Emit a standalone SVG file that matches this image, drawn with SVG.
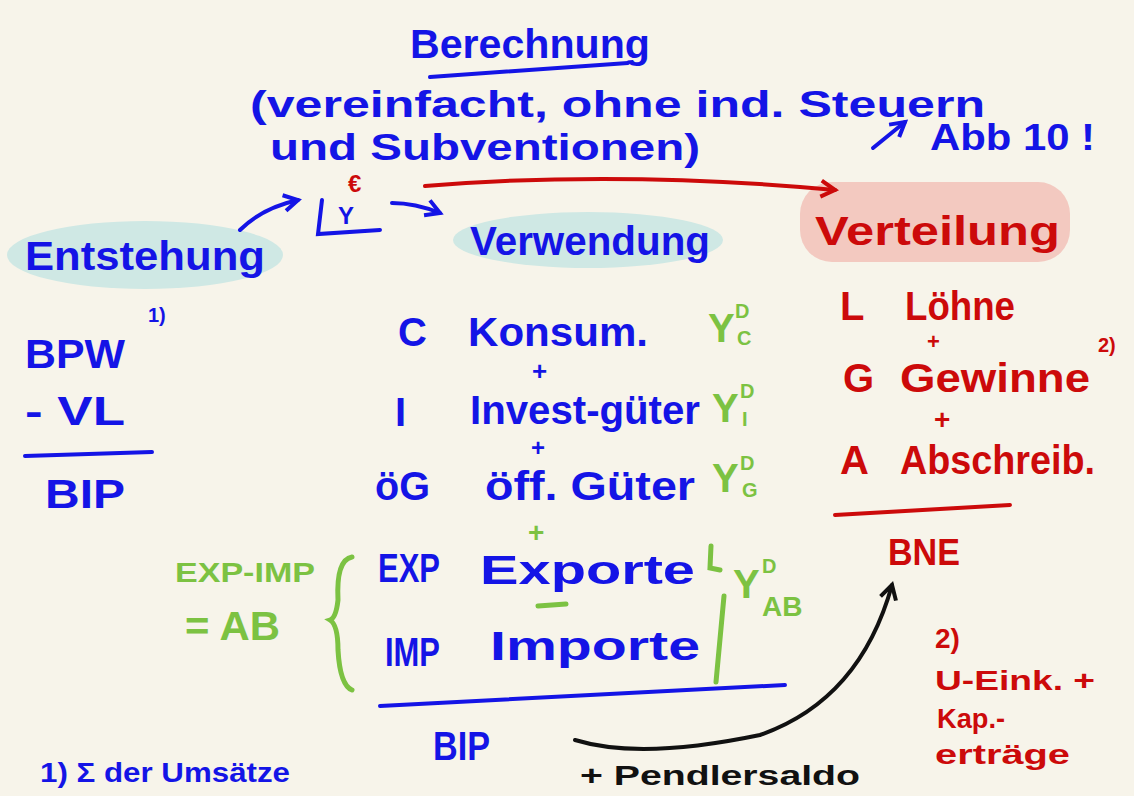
<svg xmlns="http://www.w3.org/2000/svg" width="1134" height="796" viewBox="0 0 1134 796">
<style>
text{font-family:"Liberation Sans","DejaVu Sans",sans-serif;font-weight:bold}
.b{fill:#1414e6}.r{fill:#cc0a0a}.g{fill:#7cc242}.k{fill:#111}
.sb{stroke:#1414e6;stroke-width:4;fill:none;stroke-linecap:round}
.sr{stroke:#cc0a0a;stroke-width:4;fill:none;stroke-linecap:round}
.sg{stroke:#7cc242;stroke-width:5;fill:none;stroke-linecap:round}
.sk{stroke:#111;stroke-width:4;fill:none;stroke-linecap:round}
.big{font-size:40px}.mid{font-size:36px}.sm{font-size:28px}.xs{font-size:20px}
</style>
<defs>
<marker id="ab" viewBox="0 0 10 10" refX="8" refY="5" markerWidth="5" markerHeight="5" orient="auto"><path d="M1,1 L8,5 L1,9" fill="none" stroke="#1414e6" stroke-width="2"/></marker>
<marker id="ar" viewBox="0 0 10 10" refX="8" refY="5" markerWidth="5" markerHeight="5" orient="auto"><path d="M1,1 L8,5 L1,9" fill="none" stroke="#cc0a0a" stroke-width="2"/></marker>
<marker id="ak" viewBox="0 0 10 10" refX="8" refY="5" markerWidth="5" markerHeight="5" orient="auto"><path d="M1,1 L8,5 L1,9" fill="none" stroke="#111" stroke-width="2"/></marker>
</defs>
<rect width="1134" height="796" fill="#f7f4ea"/>

<g id="title">
<text class="b big" x="410" y="58" textLength="240" lengthAdjust="spacingAndGlyphs">Berechnung</text>
<path class="sb" d="M430,77 L628,63"/>
<text class="b mid" x="250" y="117" textLength="735" lengthAdjust="spacingAndGlyphs">(vereinfacht, ohne ind. Steuern</text>
<text class="b mid" x="270" y="160" textLength="430" lengthAdjust="spacingAndGlyphs">und Subventionen)</text>
<path class="sb" d="M873,148 L905,122" marker-end="url(#ab)"/>
<text class="b mid" x="930" y="150" textLength="165" lengthAdjust="spacingAndGlyphs">Abb 10 !</text>
</g>

<g id="income">
<text class="r" x="348" y="192" style="font-size:24px">€</text>
<path class="sb" d="M322,200 L318,234 L380,230"/>
<text class="b" x="338" y="224" style="font-size:24px">Y</text>
</g>

<g id="entstehung">
<ellipse cx="145" cy="255" rx="138" ry="34" fill="#cfe8e4"/>
<text class="b big" x="25" y="270" textLength="240" lengthAdjust="spacingAndGlyphs">Entstehung</text>
<text class="b big" x="25" y="368" textLength="100" lengthAdjust="spacingAndGlyphs">BPW</text>
<text class="b xs" x="148" y="322">1)</text>
<text class="b big" x="25" y="425" textLength="100" lengthAdjust="spacingAndGlyphs">- VL</text>
<path class="sb" d="M25,456 L152,452"/>
<text class="b big" x="45" y="508" textLength="80" lengthAdjust="spacingAndGlyphs">BIP</text>
</g>

<g id="verwendung">
<ellipse cx="588" cy="240" rx="135" ry="28" fill="#cfe8e4"/>
<text class="b big" x="470" y="255" textLength="240" lengthAdjust="spacingAndGlyphs">Verwendung</text>
<text class="b big" x="398" y="346">C</text>
<text class="b big" x="468" y="346" textLength="180" lengthAdjust="spacingAndGlyphs">Konsum.</text>
<text class="b" x="532" y="380" style="font-size:26px">+</text>
<text class="b big" x="395" y="426">I</text>
<text class="b big" x="470" y="424" textLength="230" lengthAdjust="spacingAndGlyphs">Invest-güter</text>
<text class="b" x="531" y="456" style="font-size:24px">+</text>
<text class="b big" x="375" y="500" textLength="55" lengthAdjust="spacingAndGlyphs">öG</text>
<text class="b big" x="485" y="500" textLength="210" lengthAdjust="spacingAndGlyphs">öff. Güter</text>
<text class="g sm" x="528" y="542">+</text>
<text class="b big" x="378" y="582" textLength="62" lengthAdjust="spacingAndGlyphs">EXP</text>
<text class="b big" x="480" y="584" textLength="215" lengthAdjust="spacingAndGlyphs">Exporte</text>
<path class="sg" d="M538,606 L566,604"/>
<text class="b big" x="385" y="666" textLength="55" lengthAdjust="spacingAndGlyphs">IMP</text>
<text class="b big" x="490" y="660" textLength="210" lengthAdjust="spacingAndGlyphs">Importe</text>
<path class="sb" d="M380,706 L785,685"/>
<text class="b big" x="433" y="760" textLength="57" lengthAdjust="spacingAndGlyphs">BIP</text>
</g>

<g id="nachfrage">
<text class="g big" x="708" y="342">Y</text>
<text class="g xs" x="735" y="318">D</text>
<text class="g xs" x="737" y="345">C</text>
<text class="g big" x="712" y="422">Y</text>
<text class="g xs" x="740" y="398">D</text>
<text class="g xs" x="742" y="426">I</text>
<text class="g big" x="712" y="492">Y</text>
<text class="g xs" x="740" y="470">D</text>
<text class="g xs" x="742" y="497">G</text>
<text class="g big" x="733" y="598">Y</text>
<text class="g xs" x="762" y="573">D</text>
<text class="g sm" x="762" y="616">AB</text>
<path class="sg" d="M711,546 L710,568 L720,570"/>
<path class="sg" d="M724,596 L716,682"/>
<path class="sg" d="M352,557 Q336,560 338,600 Q336,618 330,620 Q338,625 338,650 Q340,685 352,690"/>
<text class="g sm" x="175" y="582" textLength="140" lengthAdjust="spacingAndGlyphs">EXP-IMP</text>
<text class="g big" x="185" y="640" textLength="95" lengthAdjust="spacingAndGlyphs">= AB</text>
</g>

<g id="verteilung">
<rect x="800" y="182" width="270" height="80" rx="32" fill="#f3c9c0"/>
<text class="r big" x="815" y="245" textLength="245" lengthAdjust="spacingAndGlyphs">Verteilung</text>
<text class="r big" x="840" y="320">L</text>
<text class="r big" x="905" y="320" textLength="110" lengthAdjust="spacingAndGlyphs">Löhne</text>
<text class="r" x="927" y="349" style="font-size:22px">+</text>
<text class="r big" x="843" y="392">G</text>
<text class="r big" x="900" y="392" textLength="190" lengthAdjust="spacingAndGlyphs">Gewinne</text>
<text class="r xs" x="1098" y="352">2)</text>
<text class="r sm" x="934" y="429">+</text>
<text class="r big" x="840" y="474">A</text>
<text class="r big" x="900" y="474" textLength="195" lengthAdjust="spacingAndGlyphs">Abschreib.</text>
<path class="sr" d="M835,515 L1010,505"/>
<text class="r mid" x="888" y="565" textLength="72" lengthAdjust="spacingAndGlyphs">BNE</text>
<text class="r sm" x="935" y="648">2)</text>
<text class="r sm" x="935" y="690" textLength="160" lengthAdjust="spacingAndGlyphs">U-Eink. +</text>
<text class="r sm" x="937" y="728" textLength="68" lengthAdjust="spacingAndGlyphs">Kap.-</text>
<text class="r sm" x="935" y="764" textLength="135" lengthAdjust="spacingAndGlyphs">erträge</text>
</g>

<g id="footnotes">
<text class="b sm" x="40" y="782" textLength="250" lengthAdjust="spacingAndGlyphs">1) Σ der Umsätze</text>
<text class="k sm" x="580" y="785" textLength="280" lengthAdjust="spacingAndGlyphs">+ Pendlersaldo</text>
</g>

<g id="connectors">
<path class="sb" d="M240,230 Q262,208 298,200" marker-end="url(#ab)"/>
<path class="sb" d="M392,203 Q415,203 440,213" marker-end="url(#ab)"/>
<path class="sr" d="M425,186 Q620,170 835,190" marker-end="url(#ar)"/>
<path class="sk" d="M575,740 Q640,760 760,735 Q860,700 892,585" marker-end="url(#ak)"/>
</g>
</svg>
